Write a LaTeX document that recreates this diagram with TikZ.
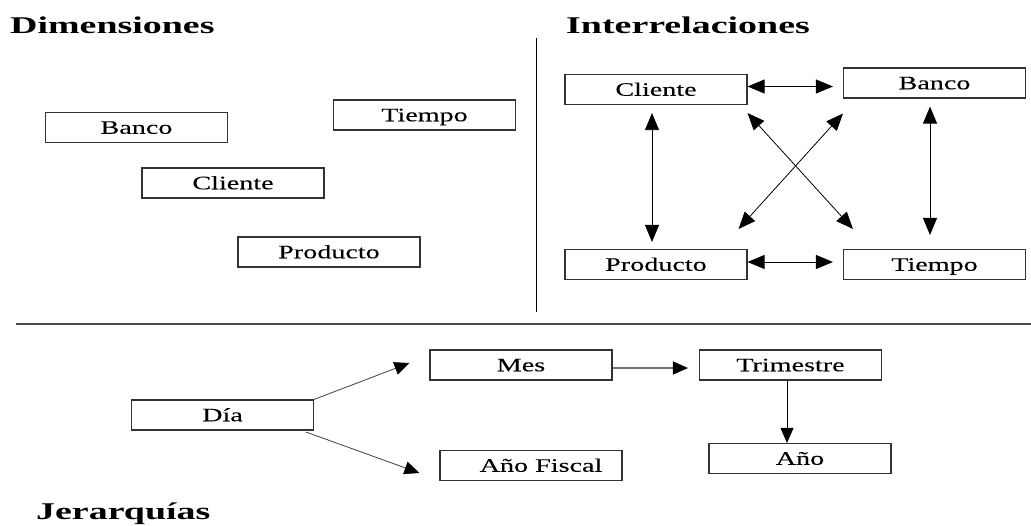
\documentclass[tikz,border=0pt]{standalone}
\usepackage{fontspec}
\setmainfont{Liberation Serif}
\newfontfamily\boxfont{Liberation Serif}[FakeStretch=1.48,FakeBold=0.12]
\newfontfamily\titlefont{Liberation Serif}[FakeStretch=1.58]
\usetikzlibrary{arrows.meta,calc}
\begin{document}
\begin{tikzpicture}[x=1pt,y=-1pt,
  box/.style={draw=black!80,line width=1.1pt,minimum width=182pt,minimum height=30pt,inner sep=0pt,
    text height=12.5pt,text depth=0pt,font=\boxfont\fontsize{19}{22}\selectfont},
  title/.style={anchor=base west,inner sep=0pt,font=\titlefont\bfseries\fontsize{24}{28}\selectfont},
  rel/.style={line width=0.8pt,{Triangle[length=17pt,width=14pt]}-{Triangle[length=17pt,width=14pt]}},
  hier/.style={line width=0.8pt,draw=black!75,-{Triangle[length=15pt,width=13pt,color=black]}}]
\useasboundingbox (0,0) rectangle (1031,525);
% titles
\node[title] (tdim) at (10,33) {Dimensiones};
\node[title] (tint) at (566,33) {Interrelaciones};
\node[title] (tjer) at (36,519) {Jerarquías};
% separators
\coordinate (vtop) at (536,38);
\coordinate (vbot) at (536,312);
\coordinate (hl) at (16,324);
\coordinate (hr) at (1031,324);
\draw[line width=1pt] (vtop) -- (vbot);
\draw[line width=1.4pt,black!70] (hl) -- (hr);
% Dimensiones
\node[box] (banL) at (136.5,127.5) {Banco};
\node[box] (tieL) at (424.5,115) {Tiempo};
\node[box] (cliL) at (233,183) {Cliente};
\node[box] (proL) at (329,252) {Producto};
% Interrelaciones
\node[box] (cliR) at (656,89.5) {Cliente};
\node[box] (banR) at (934.5,83) {Banco};
\node[box] (proR) at (656,264.5) {Producto};
\node[box] (tieR) at (934.5,264.5) {Tiempo};
\draw[rel] ($(cliR.east)+(0,-3)$) -- ($(banR.west)+(-10,3.5)$);
\draw[rel] ($(proR.east)+(0,-2.5)$) -- ($(tieR.west)+(-10,-2.5)$);
\draw[rel] ($(cliR.south)+(-4,8)$) -- ($(proR.north)+(-4,-7)$);
\draw[rel] ($(banR.south)+(-4.5,8)$) -- ($(tieR.north)+(-4.5,-14)$);
\draw[rel] ($(cliR.south east)+(0,8)$) -- ($(tieR.north west)+(10,-20)$);
\draw[rel] ($(banR.south west)+(0,15)$) -- ($(proR.north east)+(-9,-20)$);
% Jerarquias
\node[box] (dia) at (222.5,415) {Día};
\node[box] (mes) at (521,365) {Mes};
\node[box] (tri) at (790.5,365) {Trimestre};
\node[box] (fis) at (531,465.5) {\hspace*{20pt}Año Fiscal};
\node[box] (ano) at (800,458.5) {Año};
\draw[hier] (dia.north east) -- ($(mes.west)+(-20,-2)$);
\draw[hier] ($(dia.south east)+(-8,1.5)$) -- ($(fis.west)+(-20,7.5)$);
\draw[hier,draw=black!55,line width=1.2pt] ($(mes.east)+(0,3)$) -- ($(tri.west)+(-11,3)$);
\draw[hier,draw=black] ($(tri.south)+(-3.5,0)$) -- ($(ano.north)+(-13,0)$);
\end{tikzpicture}
\end{document}
